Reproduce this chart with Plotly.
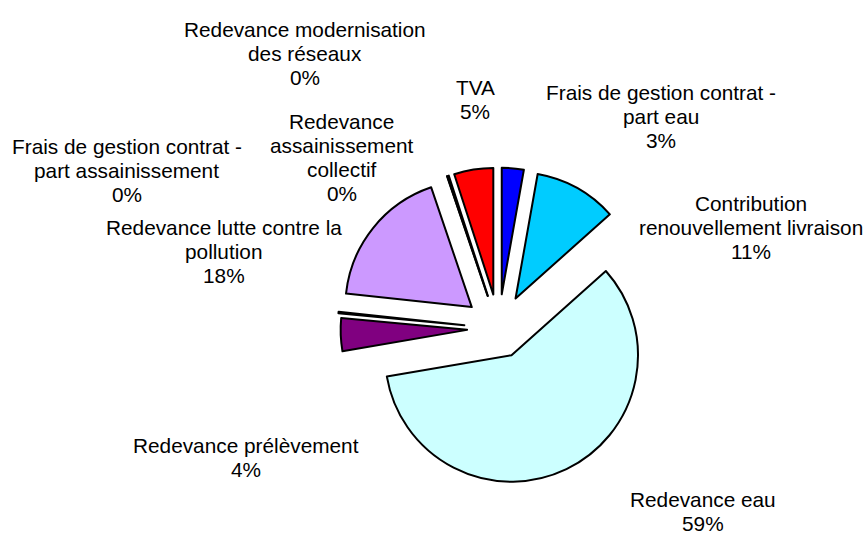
import plotly.graph_objects as go

# ---- data ----
categories = [
    "Frais de gestion contrat - part eau",
    "Contribution renouvellement livraison",
    "Redevance eau",
    "Redevance prélèvement",
    "Redevance modernisation des réseaux",
    "Redevance lutte contre la pollution",
    "Frais de gestion contrat - part assainissement",
    "Redevance assainissement collectif",
    "TVA",
]
values = [2.8, 10.6, 58.9, 4.2, 0.2, 18.1, 0.0, 0.2, 5.0]

# label text broken into lines as in the reference
label_lines = [
    ["Frais de gestion contrat -", "part eau"],
    ["Contribution", "renouvellement livraison"],
    ["Redevance eau"],
    ["Redevance prélèvement"],
    ["Redevance modernisation", "des réseaux"],
    ["Redevance lutte contre la", "pollution"],
    ["Frais de gestion contrat -", "part assainissement"],
    ["Redevance", "assainissement", "collectif"],
    ["TVA"],
]

# ---- styles / layout ----
colors = ["#0000FF", "#00CCFF", "#CCFFFF", "#800080", "#FFFFFF",
          "#CC99FF", "#FFFFFF", "#FFFFFF", "#FF0000"]
pulls = [0.273, 0.273, 0.233, 0.25, 0.273, 0.273, 0.273, 0.273, 0.273]

W, H = 865, 534
FS = 20.8
LINE_H = 24.0
# label centre x and first-line baseline, in pixels
label_pos = [
    (660.8, 99.5),
    (750.7, 211.2),
    (702.7, 507.0),
    (246.0, 452.8),
    (304.5, 37.2),
    (223.8, 234.5),
    (126.7, 153.5),
    (341.7, 128.8),
    (475.0, 94.5),
]
pie_domain_x = [0.3904, 0.7627]
pie_domain_y = [0.0830, 0.6860]

fig = go.Figure(
    go.Pie(
        labels=categories,
        values=values,
        sort=False,
        direction="clockwise",
        rotation=0,
        pull=pulls,
        marker=dict(colors=colors, line=dict(color="#000000", width=2)),
        textinfo="none",
        hoverinfo="none",
        showlegend=False,
        domain=dict(x=pie_domain_x, y=pie_domain_y),
    )
)

total = sum(values)
annotations = []
for lines, v, (cx, base) in zip(label_lines, values, label_pos):
    all_lines = lines + [f"{round(v / total * 100):.0f}%"]
    for k, txt in enumerate(all_lines):
        baseline = base + k * LINE_H
        ycenter = baseline - 0.36 * FS
        annotations.append(dict(
            x=cx / W, y=1 - ycenter / H, xref="paper", yref="paper",
            xanchor="center", yanchor="middle", showarrow=False,
            text=txt, font=dict(family="Liberation Sans, Arial, sans-serif",
                                size=FS, color="#000000"),
        ))

fig.update_layout(
    width=W, height=H,
    margin=dict(l=0, r=0, t=0, b=0),
    paper_bgcolor="#FFFFFF",
    plot_bgcolor="#FFFFFF",
    annotations=annotations,
)

fig.write_html(
    "out.html",
    config={"displayModeBar": False},
    post_script="document.body.style.margin='0';document.body.style.overflow='hidden';",
)
